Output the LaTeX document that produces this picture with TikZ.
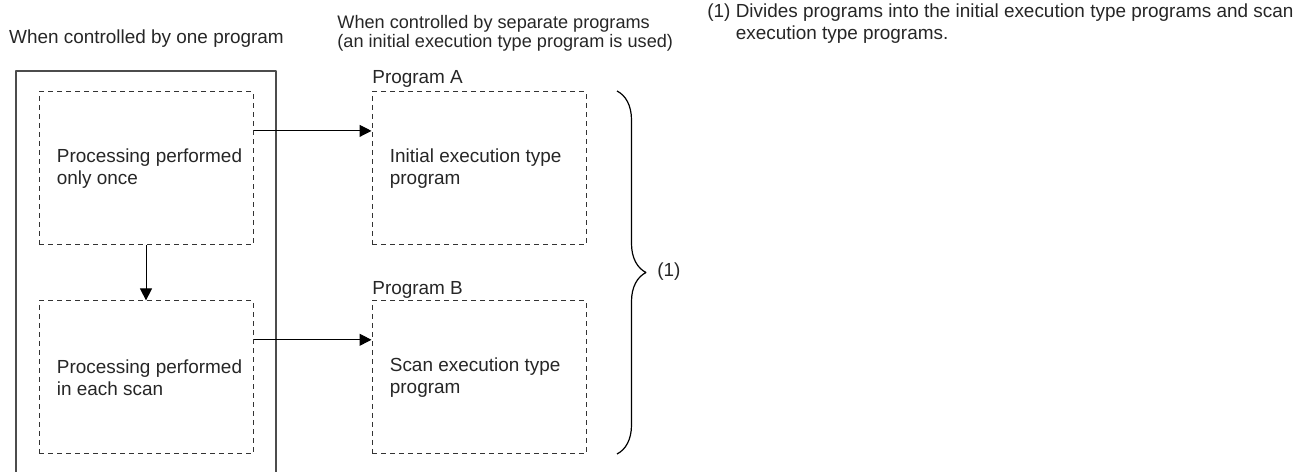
\documentclass[tikz,border=0pt]{standalone}
\usepackage{fontspec}
\setmainfont{Liberation Sans}
\usetikzlibrary{arrows.meta,decorations.pathreplacing}
\tikzset{
  procbox/.style={draw=black!80,dashed,dash pattern=on 2.5bp off 2bp,line width=0.5bp,
    minimum width=107bp,minimum height=76.5bp,inner sep=0pt},
  boxtext/.style={anchor=west,inner sep=0pt,align=left,text=black!85},
  caption/.style={inner sep=0pt,align=left,text=black!85},
}
\begin{document}
\begin{tikzpicture}[>={Triangle[length=6bp,width=6bp]},font=\fontsize{9.5}{11}\selectfont,line join=bevel]
\useasboundingbox (0bp,0bp) rectangle (653bp,236bp);
%%
\node (title_one) at (73.25bp,216.5bp) [caption] {When controlled by one program};
  \node (title_sep) at (168.5bp,219.25bp) [caption,anchor=west,font=\fontsize{9.1}{9.8}\selectfont] {When controlled by separate programs\\(an initial execution type program is used)};
  \node (note_1) at (353.5bp,224bp) [caption,anchor=west] {(1) Divides programs into the initial execution type programs and scan\\\hphantom{(1) }execution type programs.};
%
  \draw [black!70,line width=0.7bp] (8bp,0bp) -- (8bp,200.5bp) -- (138bp,200.5bp) -- (138bp,0bp);
  \node (proc_once) at (73bp,151.75bp) [procbox] {};
  \node (proc_scan) at (73bp,47.3bp) [procbox] {};
  \node (prog_a) at (239.5bp,151.75bp) [procbox] {};
  \node (prog_b) at (239.5bp,47.3bp) [procbox] {};
  \node (proc_once_txt) at ([xshift=9bp]proc_once.west) [boxtext] {Processing performed\\only once};
  \node (proc_scan_txt) at ([xshift=9bp]proc_scan.west) [boxtext] {Processing performed\\in each scan};
  \node (prog_a_txt) at ([xshift=9bp]prog_a.west) [boxtext] {Initial execution type\\program};
  \node (prog_b_txt) at ([xshift=9bp]prog_b.west) [boxtext] {Scan execution type\\program};
  \node (lbl_a) at (186bp,194bp) [caption,anchor=base west] {Program A};
  \node (lbl_b) at (186bp,88.5bp) [caption,anchor=base west] {Program B};
%
  \draw [black,->,line width=0.5bp] ([yshift=18.8bp]proc_once.east) -- ([yshift=18.8bp]prog_a.west);
  \draw [black,->,line width=0.5bp] ([yshift=18.8bp]proc_scan.east) -- ([yshift=18.8bp]prog_b.west);
  \draw [black,->,line width=0.5bp] (proc_once.south) -- (proc_scan.north);
%
  \coordinate (brace_top) at (308.5bp,190.5bp);
  \coordinate (brace_bot) at (308.5bp,9bp);
  \draw [black,line width=0.6bp,decorate,decoration={brace,amplitude=14.5bp}] (brace_top) -- (brace_bot);
  \node (brace_lbl) at (328.5bp,100bp) [caption,anchor=west] {(1)};
%
\end{tikzpicture}
\end{document}
